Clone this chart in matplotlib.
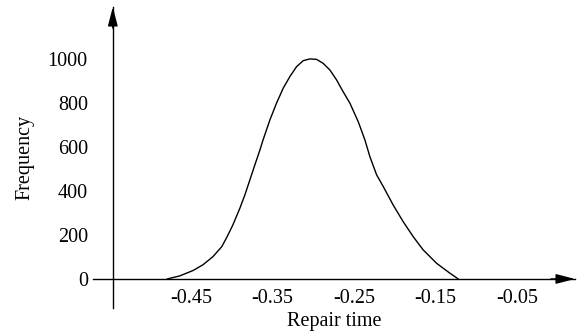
import numpy as np
import matplotlib
matplotlib.use("Agg")
import matplotlib.pyplot as plt

# ── data ─────────────────────────────────────────────────────
repair_time = [-0.479, -0.4635, -0.4475, -0.4353, -0.423, -0.412, -0.4058,
               -0.3985, -0.3899, -0.3837, -0.3776, -0.3715, -0.3653, -0.3614,
               -0.353, -0.3449, -0.3367, -0.3285, -0.3203, -0.3122, -0.304,
               -0.2958, -0.2877, -0.2795, -0.2713, -0.2632, -0.2549, -0.2447,
               -0.2365, -0.2304, -0.2221, -0.214, -0.2018, -0.1895, -0.1772,
               -0.165, -0.1485, -0.1322, -0.122]
frequency = [0, 14, 38, 64, 101, 147, 190,
             245, 321, 382, 450, 518, 586, 632,
             723, 799, 867, 920, 965, 992, 1000,
             998, 980, 950, 905, 851, 799, 715,
             632, 556, 473, 420, 336, 260, 192,
             132, 71, 26, 0]

x_ticks = [-0.45, -0.35, -0.25, -0.15, -0.05]
x_ticklabels = ["-0.45", "-0.35", "-0.25", "-0.15", "-0.05"]
y_ticks = [0, 200, 400, 600, 800, 1000]

# ── style ────────────────────────────────────────────────────
plt.rcParams.update({
    "font.family": ["Liberation Serif", "DejaVu Serif"],
    "font.size": 14.5,
})

W, H = 577, 334
fig = plt.figure(figsize=(W / 100, H / 100), dpi=100)

# axes box in pixels (left, right, top, bottom)
px_l, px_r, px_t, px_b = 93, 575, 7, 308
ax = fig.add_axes([px_l / W, 1 - px_b / H, (px_r - px_l) / W, (px_b - px_t) / H])

x_min, x_max = -0.570, 0.0212
y_min, y_max = -132, 1236
y_axis_at = -0.5457

ax.plot(repair_time, frequency, color="black", lw=1.0,
        solid_joinstyle="round", solid_capstyle="round")

ax.set_xlim(x_min, x_max)
ax.set_ylim(y_min, y_max)

# axes crossing at (y_axis_at, 0)
ax.spines["top"].set_visible(False)
ax.spines["right"].set_visible(False)
ax.spines["bottom"].set_position(("data", 0))
ax.spines["left"].set_position(("data", y_axis_at))
for s in ("bottom", "left"):
    ax.spines[s].set_linewidth(1.0)

ax.set_xticks(x_ticks)
ax.set_xticklabels(x_ticklabels)
ax.set_yticks(y_ticks)
ax.tick_params(axis="x", length=0, pad=7)
ax.tick_params(axis="y", length=0, pad=18)

# arrow heads
head = dict(arrowstyle="-|>,head_length=0.58,head_width=0.15", color="black",
            mutation_scale=20, lw=1.0, shrinkA=0, shrinkB=0)
ax.annotate("", xy=(1, 0), xytext=(0.95, 0),
            xycoords=ax.get_yaxis_transform(), textcoords=ax.get_yaxis_transform(),
            arrowprops=head, annotation_clip=False)
ax.annotate("", xy=(y_axis_at, 1), xytext=(y_axis_at, 0.93),
            xycoords=ax.get_xaxis_transform(), textcoords=ax.get_xaxis_transform(),
            arrowprops=head, annotation_clip=False)

ax.set_xlabel("Repair time")
ax.set_ylabel("Frequency")
ax.xaxis.set_label_coords(0.5, -0.012)
ax.yaxis.set_label_coords(-0.122, 0.5)

fig.savefig("out.png", dpi=100)
plt.close(fig)
